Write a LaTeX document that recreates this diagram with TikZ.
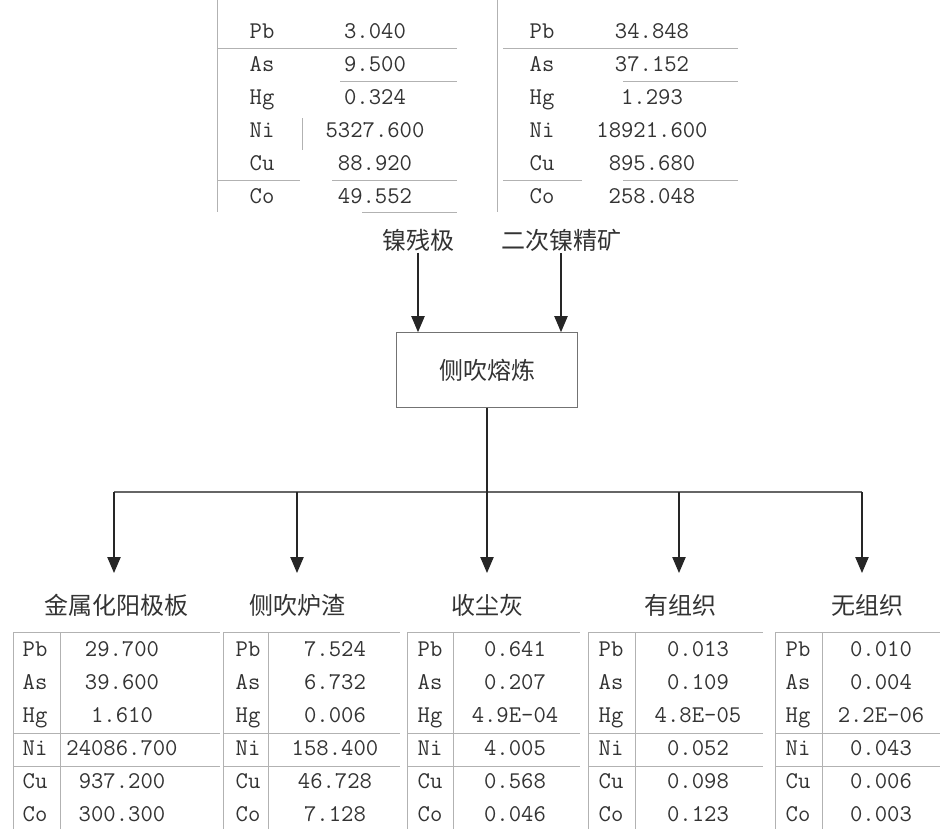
\documentclass[tikz,border=0pt]{standalone}
\usepackage{fontspec}
\setmainfont{Liberation Serif}
\newfontfamily\cjk{Noto Sans CJK SC}
\usetikzlibrary{arrows.meta,positioning}

\tikzset{
  stream/.style={draw=black!85, line width=0.9pt, -{Triangle[width=10pt,length=12pt]}},
  rule/.style={draw=black!30, line width=0.6pt},
  cell/.style={font=\ttfamily\fontsize{18}{20}\selectfont, text=black!80, inner sep=0pt, text height=11pt, text depth=2pt},
  tag/.style={font=\cjk\fontsize{18}{20}\selectfont, text=black!80, inner sep=1pt},
}

\begin{document}
\begin{tikzpicture}[x=0.75pt,y=-0.75pt]
\useasboundingbox (0,0) rectangle (940,829);

% feed tables
\foreach \el/\val [count=\i] in {Pb/3.040,As/9.500,Hg/0.324,Ni/5327.600,Cu/88.920,Co/49.552}{
  \node[cell] (fa\i) at (262,{32+33*(\i-1)}) {\el};
  \node[cell] (va\i) at (375,{32+33*(\i-1)}) {\val};
}
\foreach \el/\val [count=\i] in {Pb/34.848,As/37.152,Hg/1.293,Ni/18921.600,Cu/895.680,Co/258.048}{
  \node[cell] (fb\i) at (542,{32+33*(\i-1)}) {\el};
  \node[cell] (vb\i) at (652,{32+33*(\i-1)}) {\val};
}
\draw[rule] (217,0) -- (217,212);
\draw[rule] (217,48) -- (457,48);
\draw[rule] (340,81) -- (457,81);
\draw[rule] (217,180) -- (300,180);
\draw[rule] (332,180) -- (457,180);
\draw[rule] (362,212) -- (457,212);
\draw[rule] (302,118) -- (302,150);
\draw[rule] (497,0) -- (497,212);
\draw[rule] (503,48) -- (738,48);
\draw[rule] (623,81) -- (738,81);
\draw[rule] (503,180) -- (582,180);
\draw[rule] (623,180) -- (738,180);

% inputs and furnace
\node[tag] (in1) at (418,240) {镍残极};
\node[tag] (in2) at (561,240) {二次镍精矿};
\node[tag, draw=black!55, line width=0.8pt, minimum width=136pt, minimum height=56pt] (smelt) at (487,370) {侧吹熔炼};
\path (in1) edge[stream] (in1 |- smelt.north);
\path (in2) edge[stream] (in2 |- smelt.north);

% split
\coordinate (hubL) at (114,492);
\coordinate (hubR) at (862,492);
\coordinate (tip1) at (114,573);
\coordinate (tip2) at (297,573);
\coordinate (tip3) at (487,573);
\coordinate (tip4) at (679,573);
\coordinate (tip5) at (862,573);
\draw[black!60, line width=0.8pt] (hubL) -- (hubR);
\path (smelt) edge[stream] (tip3);
\path (hubL) edge[stream] (tip1);
\path (tip2 |- hubL) edge[stream] (tip2);
\path (tip4 |- hubL) edge[stream] (tip4);
\path (hubR) edge[stream] (tip5);

% outputs
\node[tag] (out1) at (117,605) {金属化阳极板};
\node[tag] (out2) at (297,605) {侧吹炉渣};
\node[tag] (out3) at (487,605) {收尘灰};
\node[tag] (out4) at (680,605) {有组织};
\node[tag] (out5) at (867,605) {无组织};

\foreach \l/\s/\r in {13/60/220,223/268/400,407/453/580,588/635/763,775/822/940}{
  \draw[rule] (\l,632) -- (\r,632);
  \draw[rule] (\l,632) -- (\l,829);
  \draw[rule] (\s,632) -- (\s,829);
  \draw[rule] (\l,733) -- (\r,733);
  \draw[rule] (\l,766) -- (\r,766);
}
\foreach \el/\val [count=\i] in {Pb/29.700,As/39.600,Hg/1.610,Ni/24086.700,Cu/937.200,Co/300.300}{
  \node[cell] (ea\i) at (35,{650+33*(\i-1)}) {\el};
  \node[cell] (pa\i) at (122,{650+33*(\i-1)}) {\val};
}
\foreach \el/\val [count=\i] in {Pb/7.524,As/6.732,Hg/0.006,Ni/158.400,Cu/46.728,Co/7.128}{
  \node[cell] (eb\i) at (248,{650+33*(\i-1)}) {\el};
  \node[cell] (pb\i) at (335,{650+33*(\i-1)}) {\val};
}
\foreach \el/\val [count=\i] in {Pb/0.641,As/0.207,Hg/4.9E-04,Ni/4.005,Cu/0.568,Co/0.046}{
  \node[cell] (ec\i) at (430,{650+33*(\i-1)}) {\el};
  \node[cell] (pc\i) at (515,{650+33*(\i-1)}) {\val};
}
\foreach \el/\val [count=\i] in {Pb/0.013,As/0.109,Hg/4.8E-05,Ni/0.052,Cu/0.098,Co/0.123}{
  \node[cell] (ed\i) at (611,{650+33*(\i-1)}) {\el};
  \node[cell] (pd\i) at (698,{650+33*(\i-1)}) {\val};
}
\foreach \el/\val [count=\i] in {Pb/0.010,As/0.004,Hg/2.2E-06,Ni/0.043,Cu/0.006,Co/0.003}{
  \node[cell] (ee\i) at (798,{650+33*(\i-1)}) {\el};
  \node[cell] (pe\i) at (881,{650+33*(\i-1)}) {\val};
}
\end{tikzpicture}
\end{document}
